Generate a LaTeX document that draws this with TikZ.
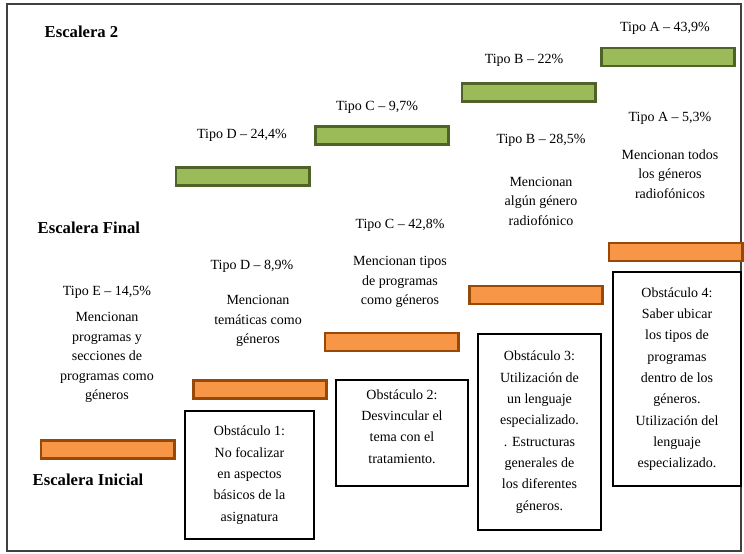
\documentclass[tikz,border=0pt]{standalone}
\usepackage{fontspec}
\setmainfont{Liberation Serif}
\definecolor{grnfill}{RGB}{155,187,89}
\definecolor{grnline}{RGB}{79,98,40}
\definecolor{orgfill}{RGB}{247,150,70}
\definecolor{orgline}{RGB}{152,72,7}
\tikzset{
  bar/.style={line width=2pt, minimum width=100pt, minimum height=13.5pt, inner sep=0pt},
  greenbar/.style={bar, draw=grnline, fill=grnfill},
  orangebar/.style={bar, draw=orgline, fill=orgfill},
  tipo/.style={font=\fontsize{10.5}{15}\selectfont},
  desc/.style={align=center, font=\fontsize{10.5}{14.6}\selectfont},
  obst/.style={draw, line width=1.3pt, fill=white, align=center, inner sep=0pt,
    font=\fontsize{10.5}{16}\selectfont},
  stair/.style={anchor=west, font=\bfseries\fontsize{12.5}{15}\selectfont}
}
\begin{document}
\begin{tikzpicture}[x=0.75pt,y=-0.75pt] % escaleras de aprendizaje
  \useasboundingbox (0,0) rectangle (744,554);
  \draw[line width=1.2pt, black!75] (7,4) rectangle (741,551);
  % escalones
  \foreach \n/\x/\y in {D/242.5/176.5, C/382/135.5, B/528.5/92.5, A/668/57}
    \node[greenbar] (g\n) at (\x,\y) {};
  \foreach \n/\x/\y in {E/107.5/449.5, D/260/389.5, C/391.5/342, B/536/295, A/675.5/252}
    \node[orangebar] (o\n) at (\x,\y) {};
  % rotulos
  \node[stair] (esc2) at (40,32) {Escalera 2};
  \node[stair] (escF) at (33,228) {Escalera Final};
  \node[stair] (escI) at (28,480) {Escalera Inicial};
  \foreach \n/\x/\y/\p in {D/242/135/{24,4}, C/377/107/{9,7}, B/524/60/{22}, A/665/28/{43,9}}
    \node[tipo] (tg\n) at (\x,\y) {Tipo \n{} – \p\%};
  \foreach \n/\x/\y/\p in {E/107/292/{14,5}, D/252/266/{8,9}, C/400/225/{42,8}, B/541/140/{28,5}, A/670/118/{5,3}}
    \node[tipo] (to\n) at (\x,\y) {Tipo \n{} – \p\%};
  \node[desc] (dE) at (107,357.5) {Mencionan\\programas y\\secciones de\\programas como\\géneros};
  \node[desc] (dD) at (258,321) {Mencionan\\temáticas como\\géneros};
  \node[desc] (dC) at (400,282) {Mencionan tipos\\de programas\\como géneros};
  \node[desc] (dB) at (541,201) {Mencionan\\algún género\\radiofónico};
  \node[desc] (dA) at (670,174) {Mencionan todos\\los géneros\\radiofónicos};
  % obstaculos
  \node[obst, minimum width=97pt, minimum height=96.5pt] (ob1) at (249.5,475)
    {Obstáculo 1:\\No focalizar\\en aspectos\\básicos de la\\asignatura};
  \node[obst, minimum width=99.5pt, minimum height=80pt] (ob2) at (402,433)
    {Obstáculo 2:\\Desvincular el\\tema con el\\tratamiento.\\[-6pt]\mbox{}};
  \node[obst, minimum width=92.5pt, minimum height=147.5pt] (ob3) at (539.5,432)
    {Obstáculo 3:\\Utilización de\\un lenguaje\\especializado.\\. Estructuras\\generales de\\los diferentes\\géneros.};
  \node[obst, minimum width=96.5pt, minimum height=161pt] (ob4) at (677,379)
    {Obstáculo 4:\\Saber ubicar\\los tipos de\\programas\\dentro de los\\géneros.\\Utilización del\\lenguaje\\especializado.};
\end{tikzpicture}
\end{document}
